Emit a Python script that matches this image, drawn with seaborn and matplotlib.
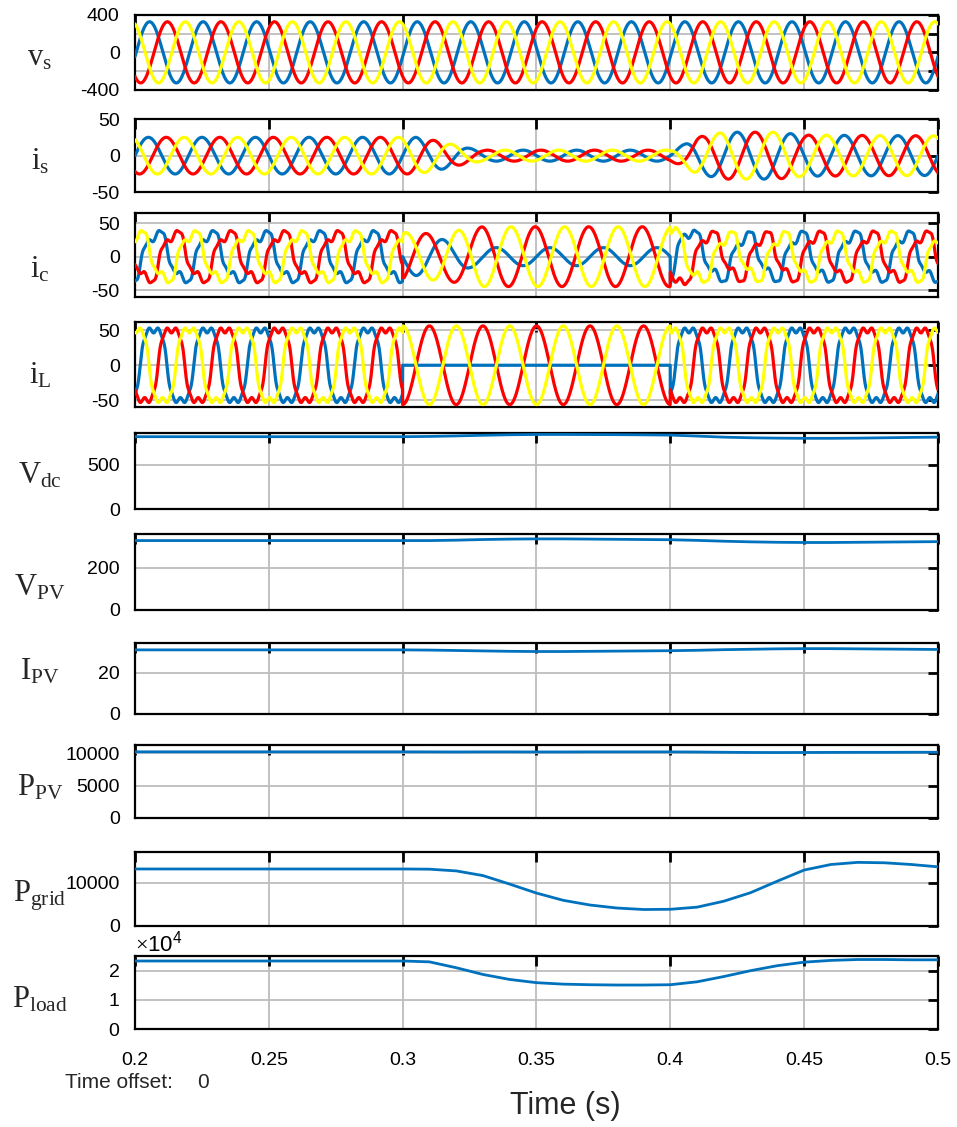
import numpy as np
import pandas as pd
import matplotlib
matplotlib.use("Agg")
import matplotlib.pyplot as plt
import seaborn as sns

# ---------------- data ----------------
t_start, t_end = 0.2, 0.5
f_grid = 50.0
phases = ["a", "b", "c"]
phase_deg = [0.0, -120.0, 120.0]
phase_colors = ["#0072BD", "#FF0000", "#FFFF00"]

vs_peak = 325.0
vs_phase_deg = -8.0

is_env_t = [0.20, 0.30, 0.305, 0.313, 0.32, 0.325, 0.33, 0.40, 0.405, 0.41, 0.42, 0.44, 0.45, 0.50]
is_env_amp = [25, 25, 25, 20, 14, 10, 7.5, 7.5, 15, 25, 32, 32, 28, 27]

il_flat = 50.0
il_lag_deg = 35.0
il_ripple = 0.08
il_shape = 2.2
il_fault = (0.30, 0.40)
il_fault_peak = 56.0

ic_gain_t = [0.20, 0.30, 0.33, 0.40, 0.4005, 0.50]
ic_gain = [1.0, 1.0, 1.8, 1.8, 1.0, 1.0]
ic_scale_t = [0.20, 0.30, 0.3005, 0.40, 0.4005, 0.50]
ic_scale = [0.9, 0.9, 1.0, 1.0, 0.9, 0.9]

dc_t = [0.20, 0.21, 0.22, 0.23, 0.24, 0.25, 0.26, 0.27, 0.28, 0.29, 0.30,
        0.31, 0.32, 0.33, 0.34, 0.35, 0.36, 0.37, 0.38, 0.39, 0.40,
        0.41, 0.42, 0.43, 0.44, 0.45, 0.46, 0.47, 0.48, 0.49, 0.50]
vdc = [815, 815, 815, 815, 815, 815, 815, 815, 815, 815, 815,
       818, 824, 831, 837, 840, 840, 839, 838, 836, 833,
       822, 810, 803, 799, 797, 797, 799, 803, 807, 810]
vpv = [327, 327, 327, 327, 327, 327, 327, 327, 327, 327, 327,
       327, 329, 332, 334, 335, 335, 334, 333, 332, 331,
       328, 324, 321, 319, 318, 318, 319, 320, 321, 322]
ipv = [31.2, 31.2, 31.2, 31.2, 31.2, 31.2, 31.2, 31.2, 31.2, 31.2, 31.2,
       31.1, 30.9, 30.7, 30.5, 30.4, 30.4, 30.5, 30.6, 30.7, 30.8,
       31.0, 31.3, 31.5, 31.7, 31.8, 31.8, 31.7, 31.6, 31.5, 31.4]
ppv = [10200, 10200, 10200, 10200, 10200, 10200, 10200, 10200, 10200, 10200, 10200,
       10190, 10180, 10190, 10190, 10180, 10180, 10190, 10190, 10190, 10190,
       10170, 10130, 10100, 10090, 10100, 10110, 10120, 10120, 10130, 10130]
pgrid = [13250, 13250, 13250, 13250, 13250, 13250, 13250, 13250, 13250, 13250, 13250,
         13200, 12800, 11700, 9700, 7600, 5900, 4800, 4100, 3750, 3800,
         4300, 5700, 7700, 10400, 13000, 14300, 14800, 14700, 14300, 13750]
pload = [23300, 23300, 23300, 23300, 23300, 23300, 23300, 23300, 23300, 23300, 23300,
         23000, 21000, 18700, 17000, 15900, 15400, 15200, 15100, 15100, 15200,
         16200, 18000, 20000, 21700, 22900, 23500, 23800, 23800, 23700, 23700]

x_ticks = [0.2, 0.25, 0.3, 0.35, 0.4, 0.45, 0.5]
x_ticklabels = ["0.2", "0.25", "0.3", "0.35", "0.4", "0.45", "0.5"]

# ---------------- waveform construction ----------------
t = np.linspace(t_start, t_end, 6001)
theta = 2 * np.pi * f_grid * (t - t_start)
lag = np.deg2rad(il_lag_deg)
fault = (t >= il_fault[0]) & (t < il_fault[1])
is_env = np.interp(t, is_env_t, is_env_amp)
ic_g = np.interp(t, ic_gain_t, ic_gain)
ic_s = np.interp(t, ic_scale_t, ic_scale)


def six_pulse(th):
    s = np.tanh(il_shape * np.sin(th)) / np.tanh(il_shape)
    return s * (1 + il_ripple * np.cos(6 * th))


wave = {"vs": [], "is": [], "ic": [], "iL": []}
for ph, deg in zip(phases, phase_deg):
    p = np.deg2rad(deg)
    vs = vs_peak * np.sin(theta + p + np.deg2rad(vs_phase_deg))
    i_s = is_env * np.sin(theta + p)
    il = il_flat * six_pulse(theta + p - lag)
    fault_line = il_fault_peak * np.sin(theta - np.pi / 2)
    if ph == "a":
        il = np.where(fault, 0.0, il)
    elif ph == "b":
        il = np.where(fault, fault_line, il)
    else:
        il = np.where(fault, -fault_line, il)
    ic = ic_s * (il - ic_g * i_s)
    for key, arr in zip(["vs", "is", "ic", "iL"], [vs, i_s, ic, il]):
        wave[key].append(pd.DataFrame({"t": t, "v": arr, "phase": ph}))
wave = {k: pd.concat(v, ignore_index=True) for k, v in wave.items()}

dc_df = pd.DataFrame({"t": dc_t, "vdc": vdc, "vpv": vpv, "ipv": ipv,
                      "ppv": ppv, "pgrid": pgrid, "pload": pload})

# ---------------- figure ----------------
sns.set_theme(style="white")
plt.rcParams["font.family"] = ["Liberation Sans", "DejaVu Sans"]
plt.rcParams["axes.unicode_minus"] = False
plt.rcParams["mathtext.fontset"] = "custom"
plt.rcParams["mathtext.rm"] = "Liberation Serif"
plt.rcParams["mathtext.it"] = "Liberation Serif:italic"

W, H = 957, 1127
fig = plt.figure(figsize=(W / 100, H / 100), dpi=100)

left_px, right_px = 135, 938
panels = [
    ("vs", 14.7, 90.0, (-400, 400), [-400, -200, 0, 200, 400], ["-400", "", "0", "", "400"], r"$\mathrm{v}_{\mathrm{s}}$", 57),
    ("is", 119.0, 192.3, (-50, 50), [-50, 0, 50], ["-50", "0", "50"], r"$\mathrm{i}_{\mathrm{s}}$", 162),
    ("ic", 213.3, 296.7, (-60, 65), [-50, 0, 50], ["-50", "0", "50"], r"$\mathrm{i}_{\mathrm{c}}$", 269),
    ("iL", 321.7, 406.7, (-59, 62), [-50, 0, 50], ["-50", "0", "50"], r"$\mathrm{i}_{\mathrm{L}}$", 375),
    ("vdc", 432.7, 509.3, (0, 860), [0, 500], ["0", "500"], r"$\mathrm{V}_{\mathrm{dc}}$", 476),
    ("vpv", 534.0, 610.0, (0, 358), [0, 200], ["0", "200"], r"$\mathrm{V}_{\mathrm{PV}}$", 587),
    ("ipv", 643.3, 714.0, (0, 34.4), [0, 20], ["0", "20"], r"$\mathrm{I}_{\mathrm{PV}}$", 672),
    ("ppv", 745.0, 818.0, (0, 11250), [0, 5000, 10000], ["0", "5000", "10000"], r"$\mathrm{P}_{\mathrm{PV}}$", 788),
    ("pgrid", 851.7, 925.5, (0, 17300), [0, 10000], ["0", "10000"], r"$\mathrm{P}_{\mathrm{grid}}$", 896),
    ("pload", 956.0, 1029.3, (0, 25000), [0, 10000, 20000], None, r"$\mathrm{P}_{\mathrm{load}}$", 999),
]

for i, (key, top, bot, ylim, yt, ytl, lab, lab_y) in enumerate(panels):
    ax = fig.add_axes([left_px / W, 1 - bot / H, (right_px - left_px) / W, (bot - top) / H])
    if key in wave:
        sns.lineplot(data=wave[key], x="t", y="v", hue="phase", palette=phase_colors,
                     hue_order=phases, estimator=None, sort=False, legend=False,
                     linewidth=2.3, ax=ax, zorder=3)
    else:
        sns.lineplot(data=dc_df, x="t", y=key, color="#0072BD", estimator=None,
                     sort=False, legend=False, linewidth=2.0, ax=ax, zorder=3)
    ax.set_xlim(t_start, t_end)
    ax.set_ylim(*ylim)
    ax.set_xticks(x_ticks)
    ax.set_yticks(yt)
    if ytl is not None:
        ax.set_yticklabels(ytl)
    else:
        ax.ticklabel_format(style="sci", axis="y", scilimits=(0, 0), useMathText=True)
        ax.yaxis.get_offset_text().set_fontsize(16)
    if i == len(panels) - 1:
        ax.set_xticklabels(x_ticklabels)
    else:
        ax.set_xticklabels([])
    ax.set_xlabel("")
    ax.set_ylabel("")
    ax.grid(True, color="#bdbdbd", linewidth=1.3, zorder=0)
    ax.set_axisbelow(True)
    for s in ax.spines.values():
        s.set_visible(True)
        s.set_color("black")
        s.set_linewidth(1.6)
    ax.tick_params(axis="both", direction="in", length=7, width=2.0, colors="black",
                   top=True, right=True, labelsize=14, labelcolor="black")
    ax.tick_params(axis="y", pad=11)
    ax.tick_params(axis="x", pad=16)
    fig.text(40 / W, 1 - lab_y / H, lab, fontsize=22, ha="center", va="center")

fig.text(65 / W, 1 - 1083 / H, "Time offset:", fontsize=15, ha="left", va="center")
fig.text(197 / W, 1 - 1083 / H, "0", fontsize=15, ha="left", va="center")
fig.text(565 / W, 1 - 1106 / H, "Time (s)", fontsize=22, ha="center", va="center")

fig.savefig("out.png", dpi=100, facecolor="white")
